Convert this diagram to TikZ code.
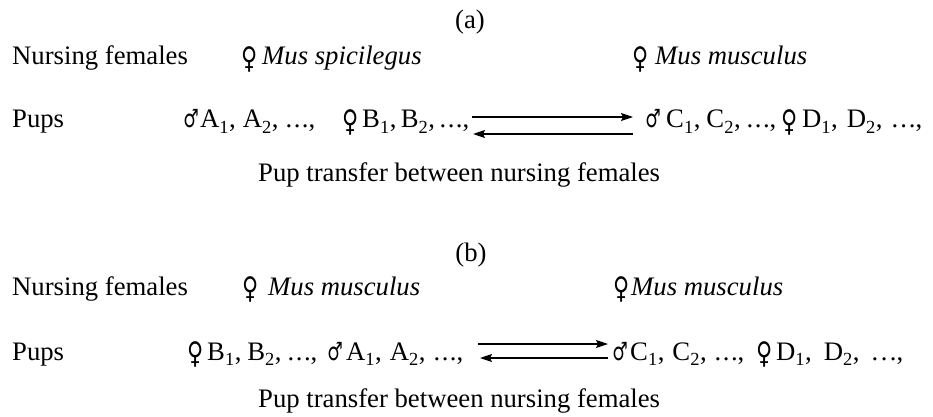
\documentclass[tikz,border=0pt]{standalone}
\usepackage{fontspec}
\setmainfont{Liberation Serif}
\newfontfamily\symf{DejaVu Sans}
\usetikzlibrary{arrows.meta}
\newcommand{\sbs}[1]{\raisebox{-0.2em}{\fontsize{18.5}{18.5}\selectfont #1}\kern0.5pt}
% letter, word space, extra kern between dots
\newcommand{\grp}[3]{#1\sbs{1},\hspace{#2}#1\sbs{2},\hspace{#2}.\kern#3.\kern#3.,}
\newcommand{\fsg}{\raisebox{-3.5pt}{\scalebox{0.85}[1.15]{\fontsize{26}{30}\symf ♀}}}
\newcommand{\msg}{\scalebox{0.72}[1.05]{\fontsize{24}{28}\symf ♂}}
\begin{document}
\begin{tikzpicture}[x=1pt,y=-1pt,
  txt/.style={anchor=base west, inner sep=0pt, font=\fontsize{26.7}{32}\selectfont},
  sym/.style={anchor=base, inner sep=0pt},
  tr/.style={line width=1.3pt, -{Stealth[length=12pt,width=8pt,inset=2pt]}}]
\useasboundingbox (0,0) rectangle (933,417);
% ---------- (a)
\node[txt,anchor=base] (la) at (470,29) {(a)};
\node[txt] (nfa) at (12,65) {Nursing females};
\node[sym] (fa1) at (250,65) {\fsg};
\node[txt] (spa1) at (262,65) {\itshape Mus spicilegus};
\node[sym] (fa2) at (641,65) {\fsg};
\node[txt] (spa2) at (655,65) {\itshape Mus musculus};
\node[txt] (pa) at (12,128) {Pups};
\node[sym] (ma1) at (191,128) {\msg};
\node[txt] (ga1) at (200,128) {\grp{A}{7pt}{1.5pt}};
\node[sym] (fa3) at (351,128) {\fsg};
\node[txt] (ga2) at (362,128) {\grp{B}{4.5pt}{1.5pt}};
\node[sym] (ma2) at (653,128) {\msg};
\node[txt] (ga3) at (666,128) {\grp{C}{6pt}{1.5pt}};
\node[sym] (fa4) at (790,128) {\fsg};
\node[txt] (ga4) at (802,128) {\grp{D}{9pt}{2pt}};
\coordinate (a1s) at (472,117);
\coordinate (a1e) at (633,117);
\coordinate (a2s) at (633,134);
\coordinate (a2e) at (473,134);
\draw[tr] (a1s) -- (a1e);
\draw[tr] (a2s) -- (a2e);
\node[txt] (ta) at (258,181) {Pup transfer between nursing females};
% ---------- (b)
\node[txt,anchor=base] (lb) at (471,261) {(b)};
\node[txt] (nfb) at (12,295) {Nursing females};
\node[sym] (fb1) at (251,295) {\fsg};
\node[txt] (spb1) at (268,295) {\itshape Mus musculus};
\node[sym] (fb2) at (622,295) {\fsg};
\node[txt] (spb2) at (631,295) {\itshape Mus musculus};
\node[txt] (pb) at (12,360) {Pups};
\node[sym] (fb3) at (196,360) {\fsg};
\node[txt] (gb1) at (207,360) {\grp{B}{6pt}{1.5pt}};
\node[sym] (mb1) at (335,360) {\msg};
\node[txt] (gb2) at (346,360) {\grp{A}{8pt}{1.5pt}};
\node[sym] (mb2) at (620,360) {\msg};
\node[txt] (gb3) at (630,360) {\grp{C}{8pt}{1.5pt}};
\node[sym] (fb4) at (765,360) {\fsg};
\node[txt] (gb4) at (776,360) {\grp{D}{12pt}{2.5pt}};
\coordinate (b1s) at (478,344);
\coordinate (b1e) at (608,344);
\coordinate (b2s) at (608,358);
\coordinate (b2e) at (480,358);
\draw[tr] (b1s) -- (b1e);
\draw[tr] (b2s) -- (b2e);
\node[txt] (tb) at (258,407) {Pup transfer between nursing females};
\end{tikzpicture}
\end{document}
